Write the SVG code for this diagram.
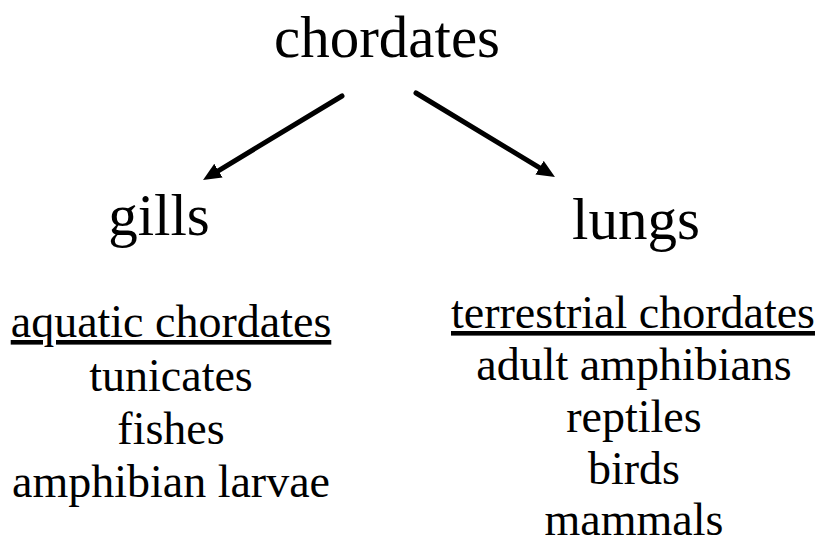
<svg xmlns="http://www.w3.org/2000/svg" width="818" height="546" viewBox="0 0 818 546">
  <style>
    text { font-family: "Liberation Serif", "Times New Roman", serif; fill: #000; text-anchor: middle; }
    .head { font-size: 59px; }
    .item { font-size: 46px; }
    .u { text-decoration: underline; }
    .conn { stroke: #000; stroke-width: 5; stroke-linecap: round; fill: none; }
  </style>
  <defs>
    <marker id="arrow" markerUnits="userSpaceOnUse" markerWidth="20" markerHeight="18" refX="6" refY="8" orient="auto">
      <path d="M0,0 L18,8 L0,16 z" fill="#000"/>
    </marker>
  </defs>
  <rect width="818" height="546" fill="#fff"/>
  <g id="connectors">
    <line class="conn" x1="342" y1="96" x2="213.3" y2="173.8" marker-end="url(#arrow)"/>
    <line class="conn" x1="416" y1="93" x2="544.7" y2="170.8" marker-end="url(#arrow)"/>
  </g>
  <g id="chordates">
    <text class="head" x="387" y="57">chordates</text>
  </g>
  <g id="gills">
    <text class="head" x="159" y="235">gills</text>
  </g>
  <g id="lungs">
    <text class="head" x="636" y="239">lungs</text>
  </g>
  <g id="aquatic">
    <text class="item u" x="171" y="337">aquatic chordates</text>
    <text class="item" x="171" y="391">tunicates</text>
    <text class="item" x="171" y="444">fishes</text>
    <text class="item" x="171" y="497">amphibian larvae</text>
  </g>
  <g id="terrestrial">
    <text class="item u" x="633" y="328">terrestrial chordates</text>
    <text class="item" x="634" y="380">adult amphibians</text>
    <text class="item" x="634" y="432">reptiles</text>
    <text class="item" x="634" y="484">birds</text>
    <text class="item" x="634" y="535">mammals</text>
  </g>
</svg>
